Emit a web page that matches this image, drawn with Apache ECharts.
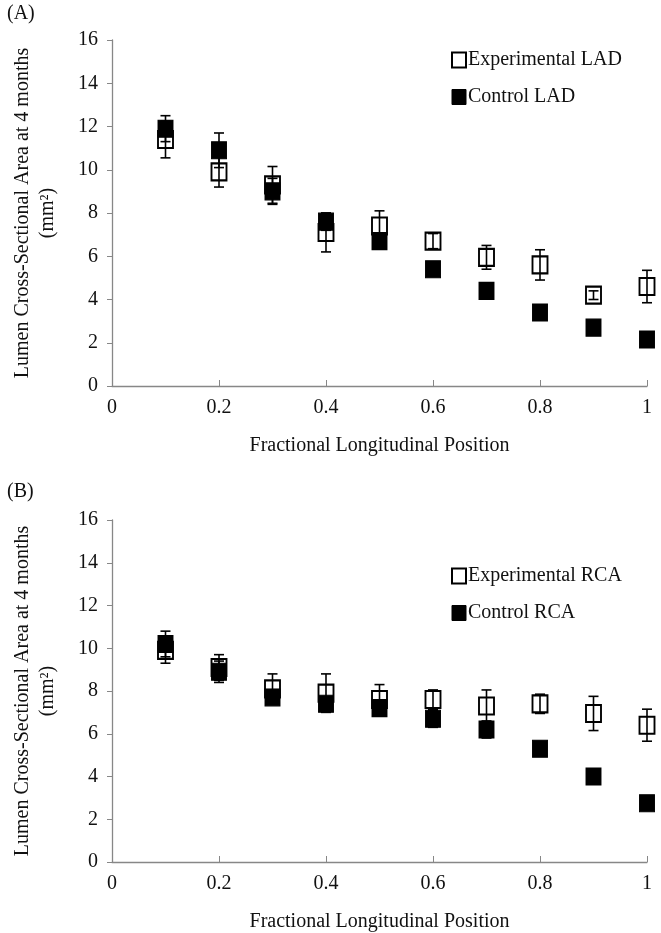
<!DOCTYPE html>
<html>
<head>
<meta charset="utf-8">
<title>Lumen area</title>
<script src="https://cdn.jsdelivr.net/npm/echarts@6/dist/echarts.min.js"></script>
<style>
html, body { margin: 0; padding: 0; background: #fff; }
#chart { width: 661px; height: 933px; }
</style>
</head>
<body>
<div id="chart"></div>
<script>
// fractional positions
var positions = [0.1, 0.2, 0.3, 0.4, 0.5, 0.6, 0.7, 0.8, 0.9, 1.0];
var xTicks = [0, 0.2, 0.4, 0.6, 0.8, 1];
var yTicks = [0, 2, 4, 6, 8, 10, 12, 14, 16];

// (A) LAD
var expLAD = [11.4, 9.9, 9.3, 7.1, 7.4, 6.7, 5.95, 5.6, 4.2, 4.6];
var expLADErr = [0.85, 0.7, 0.85, 0.9, 0.7, 0.35, 0.55, 0.7, 0.2, 0.75];
var ctlLAD = [11.9, 10.9, 9.0, 7.6, 6.7, 5.4, 4.4, 3.4, 2.7, 2.15];
var ctlLADErr = [0.6, 0.8, 0.6, 0.4, 0, 0, 0, 0, 0, 0];

// (B) RCA
var expRCA = [9.9, 9.1, 8.1, 7.9, 7.6, 7.6, 7.3, 7.4, 6.95, 6.4];
var expRCAErr = [0.6, 0.6, 0.7, 0.9, 0.7, 0.45, 0.75, 0.45, 0.8, 0.75];
var ctlRCA = [10.2, 8.9, 7.7, 7.4, 7.2, 6.7, 6.2, 5.3, 4.0, 2.75];
var ctlRCAErr = [0.6, 0.5, 0.2, 0.2, 0.3, 0.4, 0.4, 0, 0, 0];

var serif = "'Liberation Serif', 'DejaVu Serif', serif";
var axisGray = "#878787";

function points(ys){
	var out = [];
	for(var i=0;i<positions.length;i++){
		out.push([positions[i], ys[i]]);
	}
	return out;
}

function errPoints(ys, errs){
	var out = [];
	for(var i=0;i<positions.length;i++){
		if(errs[i] > 0){
			out.push([positions[i], ys[i]-errs[i], ys[i]+errs[i]]);
		}
	}
	return out;
}

function renderErr(params, api){
	var x = api.value(0);
	var top = api.coord([x, api.value(2)]);
	var bot = api.coord([x, api.value(1)]);
	var cap = 5;
	var st = { stroke: "#000", lineWidth: 1.6 };
	return {
		type: "group",
		children: [
			{ type: "line", shape: { x1: top[0], y1: top[1], x2: bot[0], y2: bot[1] }, style: st },
			{ type: "line", shape: { x1: top[0]-cap, y1: top[1], x2: top[0]+cap, y2: top[1] }, style: st },
			{ type: "line", shape: { x1: bot[0]-cap, y1: bot[1], x2: bot[0]+cap, y2: bot[1] }, style: st }
		]
	};
}

function xAxisFor(idx){
	return {
		type: "value", gridIndex: idx, min: 0, max: 1, interval: 0.2,
		name: "Fractional Longitudinal Position",
		nameLocation: "middle", nameGap: 50,
		nameTextStyle: { fontFamily: serif, fontSize: 20, color: "#111" },
		axisLine: { lineStyle: { color: axisGray, width: 1.3 } },
		axisTick: { inside: true, length: 6, lineStyle: { color: axisGray } },
		splitLine: { show: false },
		axisLabel: {
			fontFamily: serif, fontSize: 20, color: "#111", margin: 12,
			formatter: function(v){ return xTicks.indexOf(v) >= 0 ? String(v) : ""; }
		}
	};
}

function yAxisFor(idx){
	return {
		type: "value", gridIndex: idx, min: yTicks[0], max: yTicks[yTicks.length-1], interval: 2,
		name: "Lumen Cross-Sectional Area at 4 months\n(mm\u00b2)",
		nameLocation: "middle", nameGap: 52, nameRotate: 90,
		nameTextStyle: { fontFamily: serif, fontSize: 20, color: "#111", lineHeight: 25 },
		axisLine: { show: true, lineStyle: { color: axisGray, width: 1.3 } },
		axisTick: { show: true, length: 5, lineStyle: { color: axisGray } },
		splitLine: { show: false },
		axisLabel: { fontFamily: serif, fontSize: 20, color: "#111", margin: 14 }
	};
}

var openStyle = { color: "#fff", borderColor: "#000", borderWidth: 2, opacity: 1 };
var fillStyle = { color: "#000", borderColor: "#000", borderWidth: 1, opacity: 1 };

function scatterFor(name, idx, ys, style, z){
	return {
		name: name, type: "scatter", xAxisIndex: idx, yAxisIndex: idx,
		symbol: "rect", symbolSize: [15, 17], itemStyle: style, z: z,
		data: points(ys)
	};
}

function errFor(idx, ys, errs, z){
	return {
		type: "custom", xAxisIndex: idx, yAxisIndex: idx, z: z,
		renderItem: renderErr, data: errPoints(ys, errs)
	};
}

function legendFor(top, names){
	return {
		orient: "vertical", left: 446, top: top, itemGap: 17,
		itemWidth: 14, itemHeight: 15, icon: "rect",
		textStyle: { fontFamily: serif, fontSize: 20, color: "#111", padding: [0, 0, 0, -3] },
		data: [
			{ name: names[0], itemStyle: openStyle },
			{ name: names[1], itemStyle: fillStyle }
		]
	};
}

var option = {
	backgroundColor: "#fff",
	animation: false,
	title: [
		{ text: "(A)", left: 2, top: -1, textStyle: { fontFamily: serif, fontSize: 20, fontWeight: "normal", color: "#111" } },
		{ text: "(B)", left: 2, top: 477, textStyle: { fontFamily: serif, fontSize: 20, fontWeight: "normal", color: "#111" } }
	],
	legend: [
		legendFor(45, ["Experimental LAD", "Control LAD"]),
		legendFor(561, ["Experimental RCA", "Control RCA"])
	],
	grid: [
		{ left: 112, right: 14, top: 40, height: 346 },
		{ left: 112, right: 14, top: 520, height: 342 }
	],
	xAxis: [xAxisFor(0), xAxisFor(1)],
	yAxis: [yAxisFor(0), yAxisFor(1)],
	series: [
		scatterFor("Experimental LAD", 0, expLAD, openStyle, 2),
		errFor(0, expLAD, expLADErr, 3),
		scatterFor("Control LAD", 0, ctlLAD, fillStyle, 4),
		errFor(0, ctlLAD, ctlLADErr, 5),
		scatterFor("Experimental RCA", 1, expRCA, openStyle, 2),
		errFor(1, expRCA, expRCAErr, 3),
		scatterFor("Control RCA", 1, ctlRCA, fillStyle, 4),
		errFor(1, ctlRCA, ctlRCAErr, 5)
	]
};

var chart = echarts.init(document.getElementById("chart"));
chart.setOption(option);
</script>
</body>
</html>
